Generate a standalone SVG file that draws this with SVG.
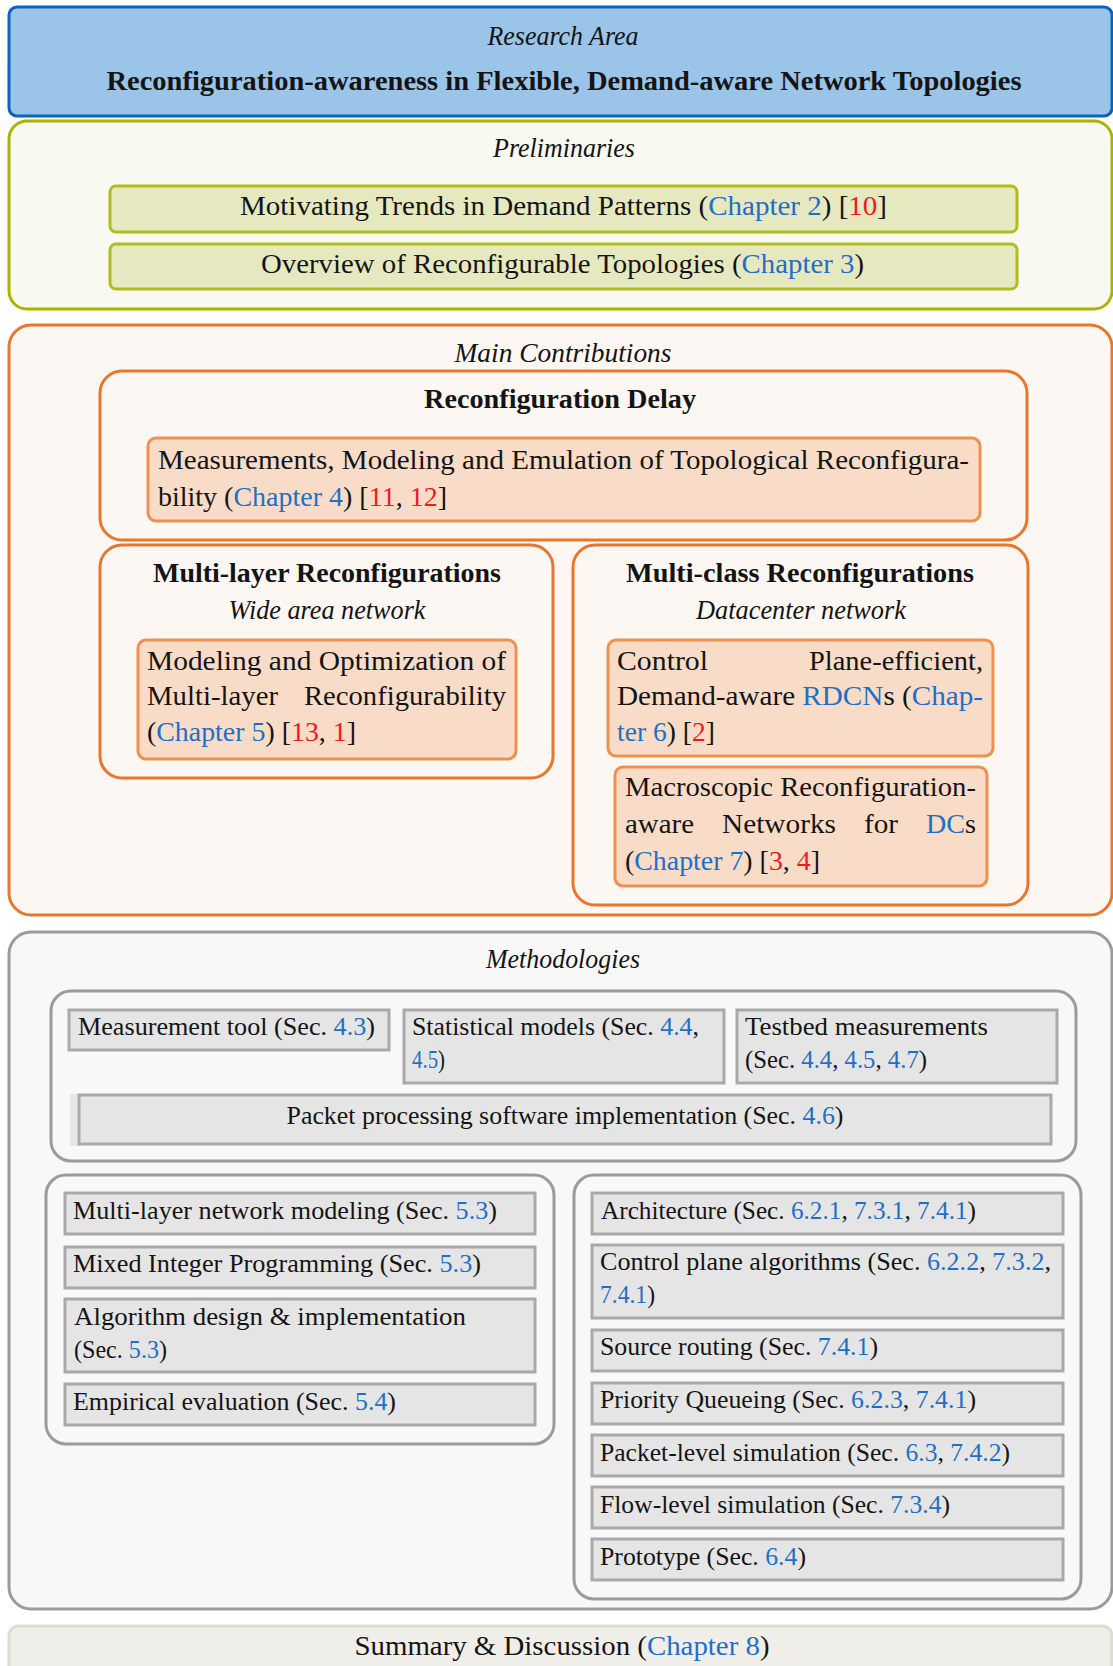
<svg xmlns="http://www.w3.org/2000/svg" width="1113" height="1666" viewBox="0 0 1113 1666">
<style>
.t{font-family:"Liberation Serif","Times New Roman",serif;font-size:26.5px;fill:#141414}
.m{font-size:25px}
.it{font-style:italic}
.b{font-weight:bold}
.c{text-anchor:middle}
.e{text-anchor:end}
.l{fill:#1F6FC4}
.r{fill:#EE1C1C}
.blue{fill:#9AC4E8;stroke:#0B63C0;stroke-width:3}
.olo{fill:#F8F9F1;stroke:#AAB300;stroke-width:3}
.oli{fill:#E6E8C0;stroke:#B3BC1E;stroke-width:3}
.oro{fill:#FCF7F3;stroke:#E8762D;stroke-width:3}
.ori{fill:#F8DCC8;stroke:#EE914F;stroke-width:3}
.gro{fill:#F8F8F8;stroke:#9B9B9B;stroke-width:3}
.gri{fill:#E5E5E5;stroke:#A9A9A9;stroke-width:3}
.sum{fill:#EFEEE8;stroke:#DDDCD2;stroke-width:3}
</style>
<rect width="1113" height="1666" fill="#FFFFFF"/>
<g id="connectors"/>

<g id="research-area">
<rect class="blue" x="9" y="7" width="1103" height="109" rx="8"/>
<text class="t it c" x="563" y="45" textLength="151" lengthAdjust="spacingAndGlyphs">Research Area</text>
<text class="t b c" x="564" y="90" textLength="915" lengthAdjust="spacingAndGlyphs">Reconfiguration-awareness in Flexible, Demand-aware Network Topologies</text>
</g>

<g id="preliminaries">
<rect class="olo" x="9" y="121" width="1103" height="188" rx="18"/>
<text class="t it c" x="564" y="157" textLength="142" lengthAdjust="spacingAndGlyphs">Preliminaries</text>
</g>
<g id="motivating-trends">
<rect class="oli" x="110" y="186" width="907" height="46" rx="6"/>
<text class="t" x="240" y="215" textLength="647" lengthAdjust="spacingAndGlyphs">Motivating Trends in Demand Patterns (<tspan class="l">Chapter 2</tspan>) [<tspan class="r">10</tspan>]</text>
</g>
<g id="overview-topologies">
<rect class="oli" x="110" y="244" width="907" height="45" rx="6"/>
<text class="t" x="261" y="273" textLength="603" lengthAdjust="spacingAndGlyphs">Overview of Reconfigurable Topologies (<tspan class="l">Chapter 3</tspan>)</text>
</g>

<g id="main-contributions">
<rect class="oro" x="9" y="325" width="1103" height="590" rx="22"/>
<text class="t it c" x="563" y="362" textLength="217" lengthAdjust="spacingAndGlyphs">Main Contributions</text>
</g>
<g id="reconfiguration-delay">
<rect class="oro" x="100" y="371" width="927" height="169" rx="22"/>
<text class="t b c" x="560" y="408" textLength="272" lengthAdjust="spacingAndGlyphs">Reconfiguration Delay</text>
</g>
<g id="measurements-modeling">
<rect class="ori" x="148" y="438" width="832" height="83" rx="8"/>
<text class="t" x="158" y="469" textLength="811" lengthAdjust="spacingAndGlyphs">Measurements, Modeling and Emulation of Topological Reconfigura-</text>
<text class="t" x="158" y="506" textLength="289" lengthAdjust="spacingAndGlyphs">bility (<tspan class="l">Chapter 4</tspan>) [<tspan class="r">11</tspan>, <tspan class="r">12</tspan>]</text>
</g>
<g id="multi-layer">
<rect class="oro" x="100" y="545" width="453" height="233" rx="22"/>
<text class="t b c" x="327" y="582" textLength="348" lengthAdjust="spacingAndGlyphs">Multi-layer Reconfigurations</text>
<text class="t it c" x="327" y="619" textLength="197" lengthAdjust="spacingAndGlyphs">Wide area network</text>
</g>
<g id="modeling-optimization">
<rect class="ori" x="138" y="640" width="378" height="119" rx="8"/>
<text class="t" x="147" y="670" textLength="359" lengthAdjust="spacingAndGlyphs">Modeling and Optimization of</text>
<text class="t" x="147" y="705" textLength="131" lengthAdjust="spacingAndGlyphs">Multi-layer</text>
<text class="t e" x="506" y="705" textLength="202" lengthAdjust="spacingAndGlyphs">Reconfigurability</text>
<text class="t" x="147" y="741" textLength="209" lengthAdjust="spacingAndGlyphs">(<tspan class="l">Chapter 5</tspan>) [<tspan class="r">13</tspan>, <tspan class="r">1</tspan>]</text>
</g>
<g id="multi-class">
<rect class="oro" x="573" y="545" width="455" height="360" rx="22"/>
<text class="t b c" x="800" y="582" textLength="348" lengthAdjust="spacingAndGlyphs">Multi-class Reconfigurations</text>
<text class="t it c" x="801" y="619" textLength="210" lengthAdjust="spacingAndGlyphs">Datacenter network</text>
</g>
<g id="control-plane-efficient">
<rect class="ori" x="608" y="640" width="385" height="116" rx="8"/>
<text class="t" x="617" y="670" textLength="91" lengthAdjust="spacingAndGlyphs">Control</text>
<text class="t e" x="983" y="670" textLength="174" lengthAdjust="spacingAndGlyphs">Plane-efficient,</text>
<text class="t" x="617" y="705" textLength="366" lengthAdjust="spacingAndGlyphs">Demand-aware <tspan class="l">RDCN</tspan>s (<tspan class="l">Chap-</tspan></text>
<text class="t" x="617" y="741" textLength="98" lengthAdjust="spacingAndGlyphs"><tspan class="l">ter 6</tspan>) [<tspan class="r">2</tspan>]</text>
</g>
<g id="macroscopic">
<rect class="ori" x="615" y="767" width="372" height="119" rx="8"/>
<text class="t" x="625" y="796" textLength="351" lengthAdjust="spacingAndGlyphs">Macroscopic Reconfiguration-</text>
<text class="t" x="625" y="833" textLength="69" lengthAdjust="spacingAndGlyphs">aware</text>
<text class="t" x="722" y="833" textLength="114" lengthAdjust="spacingAndGlyphs">Networks</text>
<text class="t" x="864" y="833" textLength="34" lengthAdjust="spacingAndGlyphs">for</text>
<text class="t" x="926" y="833" textLength="50" lengthAdjust="spacingAndGlyphs"><tspan class="l">DC</tspan>s</text>
<text class="t" x="625" y="870" textLength="195" lengthAdjust="spacingAndGlyphs">(<tspan class="l">Chapter 7</tspan>) [<tspan class="r">3</tspan>, <tspan class="r">4</tspan>]</text>
</g>

<g id="methodologies">
<rect class="gro" x="9" y="932" width="1103" height="677" rx="22"/>
<text class="t it c" x="563" y="968" textLength="154" lengthAdjust="spacingAndGlyphs">Methodologies</text>
</g>
<g id="methods-general">
<rect class="gro" x="51" y="991" width="1025" height="170" rx="20"/>
</g>
<g id="measurement-tool">
<rect class="gri" x="69" y="1010" width="320" height="40"/>
<text class="t m" x="78" y="1035" textLength="297" lengthAdjust="spacingAndGlyphs">Measurement tool (Sec. <tspan class="l">4.3</tspan>)</text>
</g>
<g id="statistical-models">
<rect class="gri" x="404" y="1010" width="320" height="73"/>
<text class="t m" x="412" y="1035" textLength="287" lengthAdjust="spacingAndGlyphs">Statistical models (Sec. <tspan class="l">4.4</tspan>,</text>
<text class="t m" x="412" y="1068" textLength="33" lengthAdjust="spacingAndGlyphs"><tspan class="l">4.5</tspan>)</text>
</g>
<g id="testbed-measurements">
<rect class="gri" x="737" y="1010" width="320" height="73"/>
<text class="t m" x="745" y="1035" textLength="243" lengthAdjust="spacingAndGlyphs">Testbed measurements</text>
<text class="t m" x="745" y="1068" textLength="182" lengthAdjust="spacingAndGlyphs">(Sec. <tspan class="l">4.4</tspan>, <tspan class="l">4.5</tspan>, <tspan class="l">4.7</tspan>)</text>
</g>
<g id="packet-processing">
<rect x="70" y="1094" width="12" height="52" fill="#E6E6E6"/>
<rect class="gri" x="79" y="1095" width="972" height="49"/>
<text class="t m c" x="565" y="1124" textLength="557" lengthAdjust="spacingAndGlyphs">Packet processing software implementation (Sec. <tspan class="l">4.6</tspan>)</text>
</g>

<g id="methods-multi-layer">
<rect class="gro" x="46" y="1175" width="508" height="269" rx="20"/>
</g>
<g id="multi-layer-modeling">
<rect class="gri" x="65" y="1193" width="470" height="41"/>
<text class="t m" x="73" y="1219" textLength="424" lengthAdjust="spacingAndGlyphs">Multi-layer network modeling (Sec. <tspan class="l">5.3</tspan>)</text>
</g>
<g id="mixed-integer">
<rect class="gri" x="65" y="1247" width="470" height="41"/>
<text class="t m" x="73" y="1272" textLength="408" lengthAdjust="spacingAndGlyphs">Mixed Integer Programming (Sec. <tspan class="l">5.3</tspan>)</text>
</g>
<g id="algorithm-design">
<rect class="gri" x="65" y="1299" width="470" height="73"/>
<text class="t m" x="74" y="1325" textLength="392" lengthAdjust="spacingAndGlyphs">Algorithm design &amp; implementation</text>
<text class="t m" x="74" y="1358" textLength="93" lengthAdjust="spacingAndGlyphs">(Sec. <tspan class="l">5.3</tspan>)</text>
</g>
<g id="empirical-evaluation">
<rect class="gri" x="65" y="1384" width="470" height="41"/>
<text class="t m" x="73" y="1410" textLength="323" lengthAdjust="spacingAndGlyphs">Empirical evaluation (Sec. <tspan class="l">5.4</tspan>)</text>
</g>

<g id="methods-multi-class">
<rect class="gro" x="574" y="1175" width="507" height="424" rx="20"/>
</g>
<g id="architecture">
<rect class="gri" x="592" y="1193" width="471" height="41"/>
<text class="t m" x="601" y="1219" textLength="375" lengthAdjust="spacingAndGlyphs">Architecture (Sec. <tspan class="l">6.2.1</tspan>, <tspan class="l">7.3.1</tspan>, <tspan class="l">7.4.1</tspan>)</text>
</g>
<g id="control-plane-algorithms">
<rect class="gri" x="592" y="1245" width="471" height="73"/>
<text class="t m" x="600" y="1270" textLength="451" lengthAdjust="spacingAndGlyphs">Control plane algorithms (Sec. <tspan class="l">6.2.2</tspan>, <tspan class="l">7.3.2</tspan>,</text>
<text class="t m" x="600" y="1303" textLength="55" lengthAdjust="spacingAndGlyphs"><tspan class="l">7.4.1</tspan>)</text>
</g>
<g id="source-routing">
<rect class="gri" x="592" y="1330" width="471" height="41"/>
<text class="t m" x="600" y="1355" textLength="278" lengthAdjust="spacingAndGlyphs">Source routing (Sec. <tspan class="l">7.4.1</tspan>)</text>
</g>
<g id="priority-queueing">
<rect class="gri" x="592" y="1383" width="471" height="41"/>
<text class="t m" x="600" y="1408" textLength="376" lengthAdjust="spacingAndGlyphs">Priority Queueing (Sec. <tspan class="l">6.2.3</tspan>, <tspan class="l">7.4.1</tspan>)</text>
</g>
<g id="packet-level-simulation">
<rect class="gri" x="592" y="1435" width="471" height="41"/>
<text class="t m" x="600" y="1461" textLength="410" lengthAdjust="spacingAndGlyphs">Packet-level simulation (Sec. <tspan class="l">6.3</tspan>, <tspan class="l">7.4.2</tspan>)</text>
</g>
<g id="flow-level-simulation">
<rect class="gri" x="592" y="1487" width="471" height="41"/>
<text class="t m" x="600" y="1513" textLength="350" lengthAdjust="spacingAndGlyphs">Flow-level simulation (Sec. <tspan class="l">7.3.4</tspan>)</text>
</g>
<g id="prototype">
<rect class="gri" x="592" y="1539" width="471" height="41"/>
<text class="t m" x="600" y="1565" textLength="206" lengthAdjust="spacingAndGlyphs">Prototype (Sec. <tspan class="l">6.4</tspan>)</text>
</g>

<g id="summary-discussion">
<rect class="sum" x="9" y="1626" width="1103" height="60" rx="10"/>
<text class="t c" x="562" y="1655" textLength="415" lengthAdjust="spacingAndGlyphs">Summary &amp; Discussion (<tspan class="l">Chapter 8</tspan>)</text>
</g>
</svg>
